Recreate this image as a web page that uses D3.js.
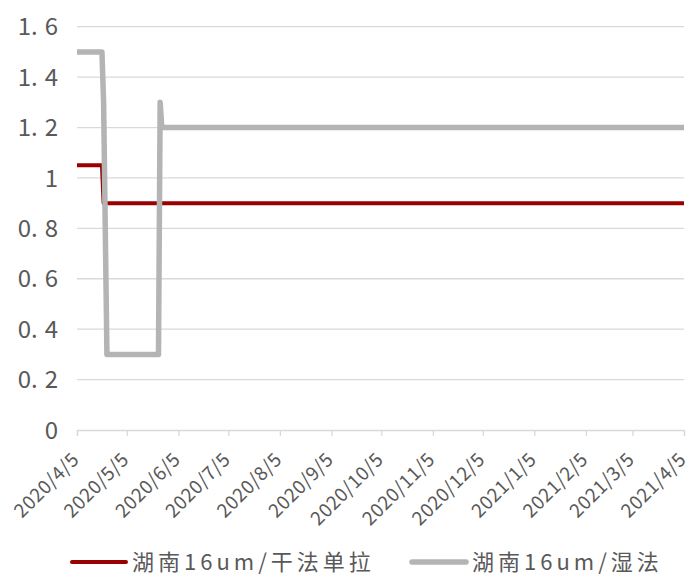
<!DOCTYPE html>
<meta charset="utf-8">
<script src="https://d3js.org/d3.v7.min.js"></script>
<style>
  body { margin: 0; background: #fff; }
  text { font-family: "Noto Sans CJK SC", "DejaVu Sans", sans-serif; fill: #595959; }
</style>
<div id="chart"></div>
<script>

// data
var dryDates  = ["2020/4/5", "2020/4/20", "2020/4/21", "2021/4/5"];
var dryValues = [1.05, 1.05, 0.9, 0.9];

var wetDates  = ["2020/4/5", "2020/4/20", "2020/4/21", "2020/4/23", "2020/5/24", "2020/5/25", "2020/5/26", "2021/4/5"];
var wetValues = [1.5, 1.5, 1.3, 0.3, 0.3, 1.3, 1.2, 1.2];

var tickLabels = ["2020/4/5", "2020/5/5", "2020/6/5", "2020/7/5", "2020/8/5", "2020/9/5",
                  "2020/10/5", "2020/11/5", "2020/12/5", "2021/1/5", "2021/2/5", "2021/3/5", "2021/4/5"];
var yTicks = [0, 0.2, 0.4, 0.6, 0.8, 1, 1.2, 1.4, 1.6];

var seriesNames = ["湖南16um/干法单拉", "湖南16um/湿法"];
var seriesColors = ["#990000", "#b4b4b4"];

var width = 690, height = 576;
var margin = {top: 26.7, right: 6, bottom: 146, left: 77};

var svg = d3.select("#chart")
  .append("svg")
    .attr("width", width)
    .attr("height", height);

var parse = d3.timeParse("%Y/%m/%d");

var x = d3.scaleTime()
  .domain([parse(tickLabels[0]), parse(tickLabels[tickLabels.length - 1])])
  .range([margin.left, width - margin.right]);

var y = d3.scaleLinear()
  .domain([0, 1.6])
  .range([height - margin.bottom, margin.top]);

// gridlines
svg.append("g")
  .selectAll("line")
  .data(yTicks.slice(1))
  .join("line")
    .attr("x1", margin.left)
    .attr("x2", width - margin.right)
    .attr("y1", function(d) { return y(d); })
    .attr("y2", function(d) { return y(d); })
    .attr("stroke", "#d9d9d9")
    .attr("stroke-width", 1.3);

// y labels, with the wide gap after the point
svg.append("g")
  .selectAll("text")
  .data(yTicks)
  .join("text")
    .attr("x", 58)
    .attr("y", function(d) { return y(d); })
    .attr("dy", "0.36em")
    .attr("text-anchor", "end")
    .style("font-size", "24px")
    .each(function(d) {
      var s = d3.format("~g")(d).split(".");
      var t = d3.select(this);
      if (s.length == 1) { t.text(s[0]); return; }
      t.append("tspan").text(s[0] + ".");
      t.append("tspan").attr("dx", 7).text(s[1]);
    });

// x axis
var xAxis = svg.append("g")
  .attr("transform", "translate(0," + y(0) + ")")
  .call(d3.axisBottom(x)
    .tickValues(tickLabels.map(parse))
    .tickSize(6)
    .tickFormat(d3.timeFormat("%Y/%-m/%-d")));

xAxis.select(".domain").attr("stroke", "#d9d9d9").attr("stroke-width", 1.3);
xAxis.selectAll(".tick line").attr("stroke", "#d9d9d9").attr("stroke-width", 1.3);
xAxis.selectAll(".tick text")
  .attr("fill", "#595959")
  .style("font-size", "19px")
  .style("letter-spacing", "0.5px")
  .style("font-family", "'Noto Sans CJK SC', sans-serif")
  .attr("text-anchor", "end")
  .attr("y", 0)
  .attr("dy", "0.35em")
  .attr("transform", "translate(-2,26) rotate(-45)");

// lines
var line = d3.line()
  .x(function(d) { return x(parse(d[0])); })
  .y(function(d) { return y(d[1]); });

var series = [d3.zip(dryDates, dryValues), d3.zip(wetDates, wetValues)];
var widths = [4, 5.5];

series.forEach(function(s, i) {
  svg.append("path")
    .datum(s)
    .attr("fill", "none")
    .attr("stroke", seriesColors[i])
    .attr("stroke-width", widths[i])
    .attr("stroke-linejoin", "round")
    .attr("d", line);
});

// legend
var legendX = [72, 412];
var legend = svg.append("g")
  .selectAll("g")
  .data(seriesNames)
  .join("g")
    .attr("transform", function(d, i) { return "translate(" + legendX[i] + ",562)"; });

legend.append("line")
  .attr("x1", 0).attr("x2", 54)
  .attr("stroke", function(d, i) { return seriesColors[i]; })
  .attr("stroke-width", function(d, i) { return widths[i]; })
  .attr("stroke-linecap", "round");

legend.append("text")
  .attr("x", 60)
  .attr("dy", "0.35em")
  .style("font-size", "22px")
  .style("letter-spacing", "4px")
  .text(function(d) { return d; });

</script>
